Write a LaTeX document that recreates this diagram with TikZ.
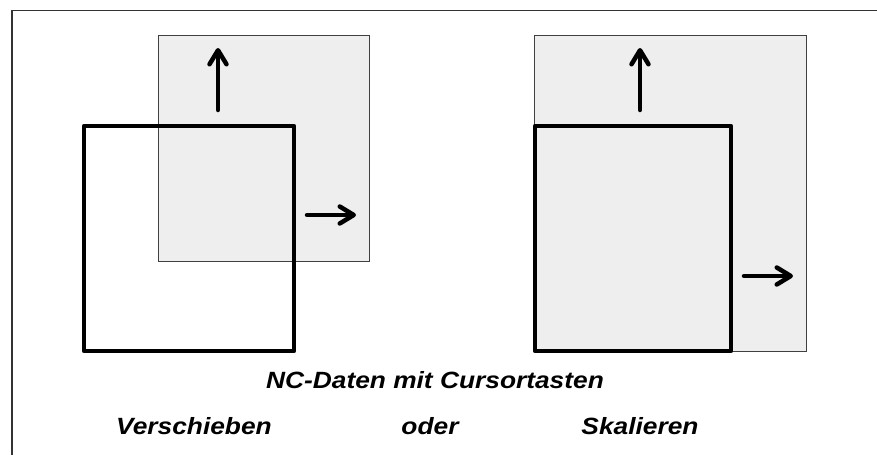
\documentclass[tikz,border=0pt]{standalone}
\usepackage{fontspec}
\setmainfont{Liberation Sans}
\usetikzlibrary{arrows.meta}
\definecolor{panelfill}{HTML}{EEEEEE}
\definecolor{paneledge}{HTML}{404040}
\definecolor{frameline}{HTML}{333333}
\newcommand{\widetext}[1]{\scalebox{1.12}[1]{#1}}
\tikzset{
  panel/.style={draw=paneledge, line width=1pt, fill=panelfill},
  thickbox/.style={draw=black, line width=4.5pt, line join=round},
  movearrow/.style={draw=black, line width=4.5pt, line cap=round,
    -{Straight Barb[length=14pt, width=17pt, line cap=round, line join=round]}},
  caption/.style={font=\fontsize{23.5}{28}\selectfont\bfseries\itshape, anchor=base, inner sep=0pt}
}
\begin{document}
\begin{tikzpicture}[x=1pt, y=-1pt]
\useasboundingbox (0,0) rectangle (877,455);
% frame (left and top edges)
\coordinate (fbl) at (12,455);
\coordinate (ftl) at (12,10.5);
\coordinate (ftr) at (877,10.5);
\draw[frameline, line width=1.5pt] (fbl) -- (ftl) -- (ftr);

% left panel: Verschieben
\draw[panel] (158,35) coordinate (lg1) rectangle (369,261) coordinate (lg2);
\draw[thickbox] (84,126) coordinate (lt1) rectangle (294,351) coordinate (lt2);
\coordinate (lua) at (218,110); \coordinate (lub) at (218,48);
\coordinate (lra) at (307,215); \coordinate (lrb) at (356,215);
\draw[movearrow] (lua) -- (lub);
\draw[movearrow] (lra) -- (lrb);

% right panel: Skalieren
\draw[panel] (534,35) coordinate (rg1) rectangle (806,351) coordinate (rg2);
\draw[thickbox, fill=panelfill] (535,126) coordinate (rt1) rectangle (731,351) coordinate (rt2);
\coordinate (rua) at (640,110); \coordinate (rub) at (640,48);
\coordinate (rra) at (744,276); \coordinate (rrb) at (793,276);
\draw[movearrow] (rua) -- (rub);
\draw[movearrow] (rra) -- (rrb);

% texts
\node[caption] (title) at (435,388.5) {\widetext{NC-Daten mit Cursortasten}};
\node[caption] (versch) at (194,434) {\widetext{Verschieben}};
\node[caption] (oder) at (430,434) {\widetext{oder}};
\node[caption] (skal) at (640,434) {\widetext{Skalieren}};
\end{tikzpicture}
\end{document}
